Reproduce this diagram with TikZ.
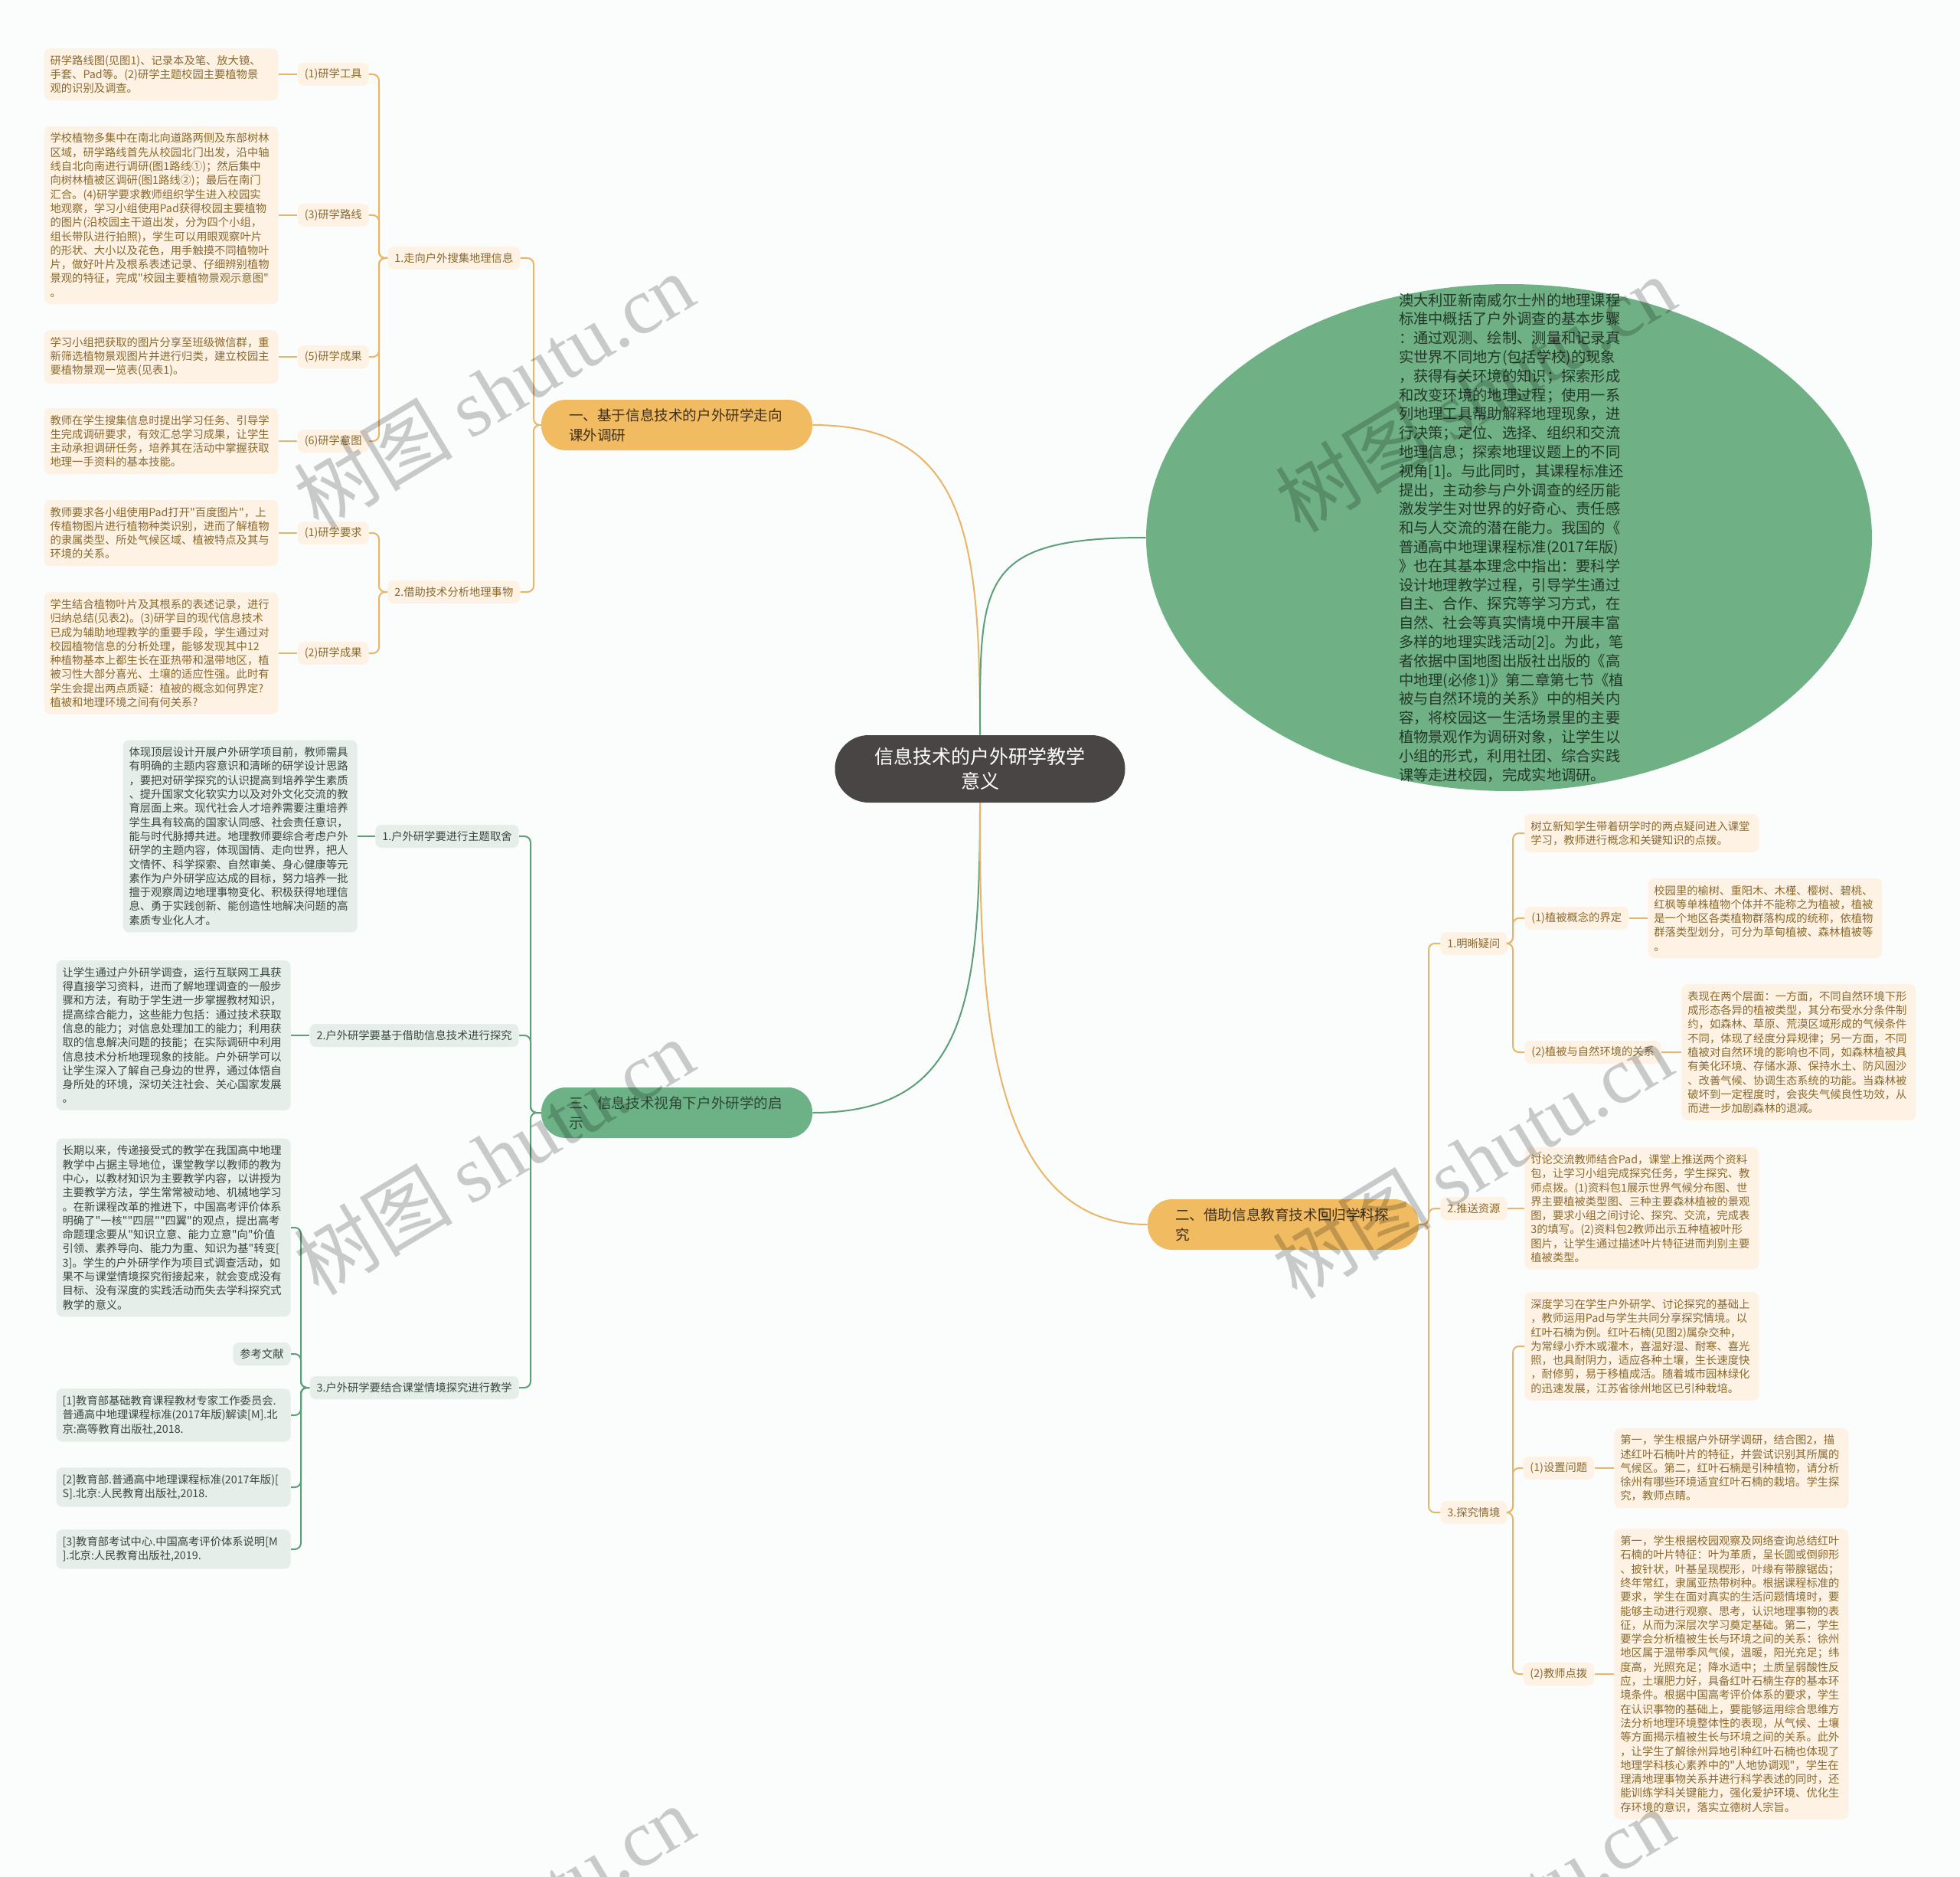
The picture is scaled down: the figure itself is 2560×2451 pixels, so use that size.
\documentclass[tikz,border=0pt]{standalone}
\usepackage{fontspec}
\setmainfont{Noto Sans CJK SC}[Ligatures=TeXOff]
\newfontfamily\wmserif{Liberation Serif}
\usetikzlibrary{shapes.geometric, positioning, calc}

\definecolor{bgpaper}{HTML}{FBFDFD}
\definecolor{rootgray}{HTML}{4A4545}
\definecolor{orangemain}{HTML}{F1BB62}
\definecolor{orangeline}{HTML}{E9B566}
\definecolor{creamfill}{HTML}{FDF2E4}
\definecolor{browntext}{HTML}{8A6A2E}
\definecolor{maintext}{HTML}{40301C}
\definecolor{greenmain}{HTML}{6DB286}
\definecolor{greenline}{HTML}{5E9E7A}
\definecolor{mintfill}{HTML}{E5EEE8}
\definecolor{darktext}{HTML}{3A4740}
\definecolor{gmaintext}{HTML}{2E4636}
\definecolor{bubblegreen}{HTML}{6FB184}
\definecolor{bubbletext}{HTML}{24382A}

\begin{document}
\begin{tikzpicture}[x=0.5pt, y=-0.5pt,
    root/.style={rectangle, rounded corners=22pt, fill=rootgray, text=white, font=\fontsize{12.5}{16.3}\selectfont, text width=140pt, align=center, minimum width=189.5pt, minimum height=44pt, inner sep=0pt},
    mainbox/.style={rectangle, rounded corners=16pt, font=\fontsize{9.3}{13}\selectfont, text width=141pt, align=left, inner xsep=18pt, inner ysep=0pt, minimum height=33pt},
    omain/.style={mainbox, fill=orangemain, text=maintext},
    gmain/.style={mainbox, fill=greenmain, text=gmaintext},
    leaf/.style={rectangle, rounded corners=4pt, font=\fontsize{7.15}{9.15}\selectfont, text width=145pt, align=left, inner xsep=4pt, inner ysep=4.5pt},
    oleaf/.style={leaf, fill=creamfill, text=browntext},
    gleaf/.style={leaf, fill=mintfill, text=darktext},
    tag/.style={rectangle, rounded corners=4pt, font=\fontsize{7.15}{9.15}\selectfont, inner xsep=4.5pt, inner ysep=2pt, minimum height=15pt},
    otag/.style={tag, fill=creamfill, text=browntext},
    gtag/.style={tag, fill=mintfill, text=darktext},
    obranch/.style={draw=orangeline, line width=1pt, rounded corners=4pt},
    gbranch/.style={draw=greenline, line width=1pt, rounded corners=4pt},
    bubble/.style={ellipse, fill=bubblegreen, minimum width=474pt, minimum height=331pt, inner sep=0pt},
    bubbletxt/.style={font=\fontsize{9.65}{12.4}\selectfont, text=bubbletext, text width=146pt, align=left, inner sep=0pt},
    wmark/.style={text=black, opacity=0.2, rotate=31, font=\fontsize{52}{52}\selectfont}
  ]
  \useasboundingbox (0,0) rectangle (2560,2451);
  \clip (0,0) rectangle (2560,2451);
  \fill[bgpaper] (0,0) rectangle (2560,2451);

  % centre and main topics
  \node[root] (root) at (1280,1004) {信息技术的户外研学教学\\意义};
  \node[omain] (m1) at (884,555) {一、基于信息技术的户外研学走向\\课外调研};
  \node[gmain] (m3) at (884,1453) {三、信息技术视角下户外研学的启\\示};
  \node[omain] (m2) at (1676,1599) {二、借助信息教育技术回归学科探\\究};
  \node[bubble] (intro) at (1971,702) {};
  \node[bubbletxt] (introtxt) at (1973,702) {澳大利亚新南威尔士州的地理课程\\
标准中概括了户外调查的基本步骤\\
：通过观测、绘制、测量和记录真\\
实世界不同地方(包括学校)的现象\\
，获得有关环境的知识；探索形成\\
和改变环境的地理过程；使用一系\\
列地理工具帮助解释地理现象，进\\
行决策；定位、选择、组织和交流\\
地理信息；探索地理议题上的不同\\
视角[1]。与此同时，其课程标准还\\
提出，主动参与户外调查的经历能\\
激发学生对世界的好奇心、责任感\\
和与人交流的潜在能力。我国的《\\
普通高中地理课程标准(2017年版)\\
》也在其基本理念中指出：要科学\\
设计地理教学过程，引导学生通过\\
自主、合作、探究等学习方式，在\\
自然、社会等真实情境中开展丰富\\
多样的地理实践活动[2]。为此，笔\\
者依据中国地图出版社出版的《高\\
中地理(必修1)》第二章第七节《植\\
被与自然环境的关系》中的相关内\\
容，将校园这一生活场景里的主要\\
植物景观作为调研对象，让学生以\\
小组的形式，利用社团、综合实践\\
课等走进校园，完成实地调研。};

  \draw[orangeline, line width=1pt] (root.north) .. controls +(0,-260) and +(200,0) .. (m1.east);
  \draw[greenline, line width=1pt] (root.north) .. controls +(0,-200) and +(-220,0) .. (intro.west);
  \draw[greenline, line width=1pt] (root.south) .. controls +(0,260) and +(200,0) .. (m3.east);
  \draw[orangeline, line width=1pt] (root.south) .. controls +(0,220) and +(-220,0) .. (m2.west);

  % branch one
  \node[otag, anchor=west] (s1) at (506,337) {1.走向户外搜集地理信息};
  \node[otag, anchor=west] (s2) at (506,773) {2.借助技术分析地理事物};
  \node[otag, anchor=east] (a1) at (482,97) {(1)研学工具};
  \node[otag, anchor=east] (a3) at (482,281) {(3)研学路线};
  \node[otag, anchor=east] (a5) at (482,466) {(5)研学成果};
  \node[otag, anchor=east] (a6) at (482,576) {(6)研学意图};
  \node[otag, anchor=east] (b1) at (482,696) {(1)研学要求};
  \node[otag, anchor=east] (b2) at (482,853) {(2)研学成果};

  \node[oleaf, anchor=east] (la1) at (364,97) {研学路线图(见图1)、记录本及笔、放大镜、\\
手套、Pad等。(2)研学主题校园主要植物景\\
观的识别及调查。};
  \node[oleaf, anchor=east] (la3) at (364,281) {学校植物多集中在南北向道路两侧及东部树林\\
区域，研学路线首先从校园北门出发，沿中轴\\
线自北向南进行调研(图1路线①)；然后集中\\
向树林植被区调研(图1路线②)；最后在南门\\
汇合。(4)研学要求教师组织学生进入校园实\\
地观察，学习小组使用Pad获得校园主要植物\\
的图片(沿校园主干道出发，分为四个小组，\\
组长带队进行拍照)，学生可以用眼观察叶片\\
的形状、大小以及花色，用手触摸不同植物叶\\
片，做好叶片及根系表述记录、仔细辨别植物\\
景观的特征，完成"校园主要植物景观示意图"\\
。};
  \node[oleaf, anchor=east] (la5) at (364,466) {学习小组把获取的图片分享至班级微信群，重\\
新筛选植物景观图片并进行归类，建立校园主\\
要植物景观一览表(见表1)。};
  \node[oleaf, anchor=east] (la6) at (364,576) {教师在学生搜集信息时提出学习任务、引导学\\
生完成调研要求，有效汇总学习成果，让学生\\
主动承担调研任务，培养其在活动中掌握获取\\
地理一手资料的基本技能。};
  \node[oleaf, anchor=east] (lb1) at (364,696) {教师要求各小组使用Pad打开"百度图片"，上\\
传植物图片进行植物种类识别，进而了解植物\\
的隶属类型、所处气候区域、植被特点及其与\\
环境的关系。};
  \node[oleaf, anchor=east] (lb2) at (364,853) {学生结合植物叶片及其根系的表述记录，进行\\
归纳总结(见表2)。(3)研学目的现代信息技术\\
已成为辅助地理教学的重要手段，学生通过对\\
校园植物信息的分析处理，能够发现其中12\\
种植物基本上都生长在亚热带和温带地区，植\\
被习性大部分喜光、土壤的适应性强。此时有\\
学生会提出两点质疑：植被的概念如何界定?\\
植被和地理环境之间有何关系?};

  \coordinate (bx1) at (697,0);
  \coordinate (bxs) at (495,0);
  \foreach \k in {s1,s2}
    \draw[obranch] (m1.west) -- (m1.west -| bx1) |- (\k.east);
  \foreach \k in {a1,a3,a5,a6}
    \draw[obranch] (s1.west) -- (s1.west -| bxs) |- (\k.east);
  \foreach \k in {b1,b2}
    \draw[obranch] (s2.west) -- (s2.west -| bxs) |- (\k.east);
  \foreach \k in {1,3,5,6}
    \draw[obranch] (a\k.west) -- (la\k.east);
  \foreach \k in {1,2}
    \draw[obranch] (b\k.west) -- (lb\k.east);

  % branch three
  \node[gtag, anchor=east] (g1) at (678,1092) {1.户外研学要进行主题取舍};
  \node[gtag, anchor=east] (g2) at (678,1352) {2.户外研学要基于借助信息技术进行探究};
  \node[gtag, anchor=east] (g3) at (678,1812) {3.户外研学要结合课堂情境探究进行教学};
  \node[gleaf, anchor=east] (lg1) at (467,1092) {体现顶层设计开展户外研学项目前，教师需具\\
有明确的主题内容意识和清晰的研学设计思路\\
，要把对研学探究的认识提高到培养学生素质\\
、提升国家文化软实力以及对外文化交流的教\\
育层面上来。现代社会人才培养需要注重培养\\
学生具有较高的国家认同感、社会责任意识，\\
能与时代脉搏共进。地理教师要综合考虑户外\\
研学的主题内容，体现国情、走向世界，把人\\
文情怀、科学探索、自然审美、身心健康等元\\
素作为户外研学应达成的目标，努力培养一批\\
擅于观察周边地理事物变化、积极获得地理信\\
息、勇于实践创新、能创造性地解决问题的高\\
素质专业化人才。};
  \node[gleaf, anchor=east] (lg2) at (380,1352) {让学生通过户外研学调查，运行互联网工具获\\
得直接学习资料，进而了解地理调查的一般步\\
骤和方法，有助于学生进一步掌握教材知识，\\
提高综合能力，这些能力包括：通过技术获取\\
信息的能力；对信息处理加工的能力；利用获\\
取的信息解决问题的技能；在实际调研中利用\\
信息技术分析地理现象的技能。户外研学可以\\
让学生深入了解自己身边的世界，通过体悟自\\
身所处的环境，深切关注社会、关心国家发展\\
。};
  \node[gleaf, anchor=east] (lg3) at (380,1603) {长期以来，传递接受式的教学在我国高中地理\\
教学中占据主导地位，课堂教学以教师的教为\\
中心，以教材知识为主要教学内容，以讲授为\\
主要教学方法，学生常常被动地、机械地学习\\
。在新课程改革的推进下，中国高考评价体系\\
明确了"一核""四层""四翼"的观点，提出高考\\
命题理念要从"知识立意、能力立意"向"价值\\
引领、素养导向、能力为重、知识为基"转变[\\
3]。学生的户外研学作为项目式调查活动，如\\
果不与课堂情境探究衔接起来，就会变成没有\\
目标、没有深度的实践活动而失去学科探究式\\
教学的意义。};
  \node[gtag, anchor=east] (ref0) at (380,1768) {参考文献};
  \node[gleaf, anchor=east] (ref1) at (380,1848) {[1]教育部基础教育课程教材专家工作委员会.\\
普通高中地理课程标准(2017年版)解读[M].北\\
京:高等教育出版社,2018.};
  \node[gleaf, anchor=east] (ref2) at (380,1942) {[2]教育部.普通高中地理课程标准(2017年版)[\\
S].北京:人民教育出版社,2018.};
  \node[gleaf, anchor=east] (ref3) at (380,2023) {[3]教育部考试中心.中国高考评价体系说明[M\\
].北京:人民教育出版社,2019.};

  \coordinate (bx3) at (693,0);
  \coordinate (bxg) at (393,0);
  \foreach \k in {g1,g2,g3}
    \draw[gbranch] (m3.west) -- (m3.west -| bx3) |- (\k.east);
  \draw[gbranch] (g1.west) -- (lg1.east);
  \draw[gbranch] (g2.west) -- (lg2.east);
  \foreach \k in {lg3,ref0,ref1,ref2,ref3}
    \draw[gbranch] (g3.west) -- (g3.west -| bxg) |- (\k.east);

  % branch two
  \node[otag, anchor=west] (r1) at (1881,1232) {1.明晰疑问};
  \node[otag, anchor=west] (r2) at (1881,1578) {2.推送资源};
  \node[otag, anchor=west] (r3) at (1881,1975) {3.探究情境};
  \node[oleaf, anchor=west] (lr0) at (1991,1088) {树立新知学生带着研学时的两点疑问进入课堂\\
学习，教师进行概念和关键知识的点拨。};
  \node[otag, anchor=west] (c1) at (1991,1199) {(1)植被概念的界定};
  \node[otag, anchor=west] (c2) at (1991,1374) {(2)植被与自然环境的关系};
  \node[oleaf, anchor=west] (lc1) at (2152,1199) {校园里的榆树、重阳木、木槿、樱树、碧桃、\\
红枫等单株植物个体并不能称之为植被，植被\\
是一个地区各类植物群落构成的统称，依植物\\
群落类型划分，可分为草甸植被、森林植被等\\
。};
  \node[oleaf, anchor=west] (lc2) at (2196,1374) {表现在两个层面：一方面，不同自然环境下形\\
成形态各异的植被类型，其分布受水分条件制\\
约，如森林、草原、荒漠区域形成的气候条件\\
不同，体现了经度分异规律；另一方面，不同\\
植被对自然环境的影响也不同，如森林植被具\\
有美化环境、存储水源、保持水土、防风固沙\\
、改善气候、协调生态系统的功能。当森林被\\
破坏到一定程度时，会丧失气候良性功效，从\\
而进一步加剧森林的退减。};
  \node[oleaf, anchor=west] (lr2) at (1991,1578) {讨论交流教师结合Pad，课堂上推送两个资料\\
包，让学习小组完成探究任务，学生探究、教\\
师点拨。(1)资料包1展示世界气候分布图、世\\
界主要植被类型图、三种主要森林植被的景观\\
图，要求小组之间讨论、探究、交流，完成表\\
3的填写。(2)资料包2教师出示五种植被叶形\\
图片，让学生通过描述叶片特征进而判别主要\\
植被类型。};
  \node[oleaf, anchor=west] (lr3) at (1991,1758) {深度学习在学生户外研学、讨论探究的基础上\\
，教师运用Pad与学生共同分享探究情境。以\\
红叶石楠为例。红叶石楠(见图2)属杂交种，\\
为常绿小乔木或灌木，喜温好湿、耐寒、喜光\\
照，也具耐阴力，适应各种土壤，生长速度快\\
，耐修剪，易于移植成活。随着城市园林绿化\\
的迅速发展，江苏省徐州地区已引种栽培。};
  \node[otag, anchor=west] (d1) at (1989,1917) {(1)设置问题};
  \node[otag, anchor=west] (d2) at (1989,2186) {(2)教师点拨};
  \node[oleaf, anchor=west] (ld1) at (2108,1917) {第一，学生根据户外研学调研，结合图2，描\\
述红叶石楠叶片的特征，并尝试识别其所属的\\
气候区。第二，红叶石楠是引种植物，请分析\\
徐州有哪些环境适宜红叶石楠的栽培。学生探\\
究，教师点睛。};
  \node[oleaf, anchor=west] (ld2) at (2108,2186) {第一，学生根据校园观察及网络查询总结红叶\\
石楠的叶片特征：叶为革质，呈长圆或倒卵形\\
、披针状，叶基呈现楔形，叶缘有带腺锯齿；\\
终年常红，隶属亚热带树种。根据课程标准的\\
要求，学生在面对真实的生活问题情境时，要\\
能够主动进行观察、思考，认识地理事物的表\\
征，从而为深层次学习奠定基础。第二，学生\\
要学会分析植被生长与环境之间的关系：徐州\\
地区属于温带季风气候，温暖，阳光充足；纬\\
度高，光照充足；降水适中；土质呈弱酸性反\\
应，土壤肥力好，具备红叶石楠生存的基本环\\
境条件。根据中国高考评价体系的要求，学生\\
在认识事物的基础上，要能够运用综合思维方\\
法分析地理环境整体性的表现，从气候、土壤\\
等方面揭示植被生长与环境之间的关系。此外\\
，让学生了解徐州异地引种红叶石楠也体现了\\
地理学科核心素养中的"人地协调观"，学生在\\
理清地理事物关系并进行科学表述的同时，还\\
能训练学科关键能力，强化爱护环境、优化生\\
存环境的意识，落实立德树人宗旨。};

  \coordinate (bx2) at (1866,0);
  \coordinate (bxr) at (1976,0);
  \foreach \k in {r1,r2,r3}
    \draw[obranch] (m2.east) -- (m2.east -| bx2) |- (\k.west);
  \foreach \k in {lr0,c1,c2}
    \draw[obranch] (r1.east) -- (r1.east -| bxr) |- (\k.west);
  \draw[obranch] (r2.east) -- (lr2.west);
  \foreach \k in {lr3,d1,d2}
    \draw[obranch] (r3.east) -- (r3.east -| bxr) |- (\k.west);
  \draw[obranch] (c1.east) -- (lc1.west);
  \draw[obranch] (c2.east) -- (lc2.west);
  \draw[obranch] (d1.east) -- (ld1.west);
  \draw[obranch] (d2.east) -- (ld2.west);

  % watermarks
  \foreach \wx/\wy [count=\i] in {645/510, 1927/514, 645/1510, 1923/1515, 645/2511, 1925/2515}
    \node[wmark] (wm\i) at (\wx,\wy) {树图 {\wmserif shutu.cn}};
\end{tikzpicture}
\end{document}
